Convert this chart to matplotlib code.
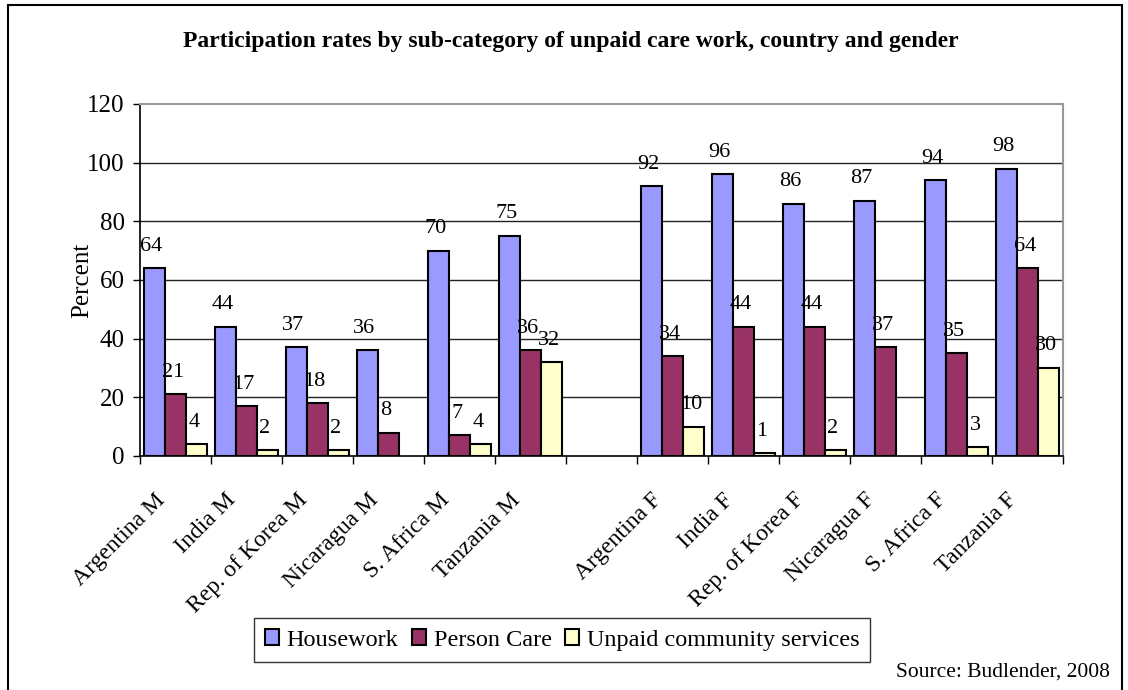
import numpy as np
import matplotlib.pyplot as plt
import matplotlib.transforms as mtransforms
from matplotlib.patches import Rectangle

plt.rcParams['font.family'] = ['Liberation Serif', 'DejaVu Serif']

categories = ["Argentina M", "India M", "Rep. of Korea M", "Nicaragua M", "S. Africa M", "Tanzania M", "",
              "Argentina F", "India F", "Rep. of Korea F", "Nicaragua F", "S. Africa F", "Tanzania F"]
housework = [64, 44, 37, 36, 70, 75, np.nan, 92, 96, 86, 87, 94, 98]
person_care = [21, 17, 18, 8, 7, 36, np.nan, 34, 44, 44, 37, 35, 64]
community = [4, 2, 2, np.nan, 4, 32, np.nan, 10, 1, 2, np.nan, 3, 30]

series = [
    ("Housework", housework, "#9999FF"),
    ("Person Care", person_care, "#993366"),
    ("Unpaid community services", community, "#FFFFCC"),
]

fig = plt.figure(figsize=(11.28, 6.9), dpi=100)
ax = fig.add_axes([140 / 1128, 1 - 456 / 690, (1063 - 140) / 1128, (456 - 104) / 690])

x = np.arange(len(categories))
w = 0.3
for k, (name, vals, col) in enumerate(series):
    vals = np.array(vals, dtype=float)
    pos = x + (k - 1) * w
    ax.bar(pos, vals, width=w, color=col, edgecolor="black", linewidth=1.5, label=name, zorder=3)
    for xi, v in zip(pos, vals):
        if np.isnan(v):
            continue
        ax.annotate(f"{v:.0f}", (xi, v), xytext=(-2, 9), textcoords="offset points",
                    ha="center", va="bottom", fontsize=16, zorder=4)

ax.set_xlim(-0.5, len(categories) - 0.5)
ax.set_ylim(0, 120)
ax.set_yticks(np.arange(0, 121, 20))
ax.tick_params(axis="y", labelsize=18, direction="out", length=5, width=1, pad=6)
for yv in range(20, 120, 20):
    ax.axhline(yv, color="#222222", linewidth=1, zorder=1)

ax.set_xticks(x)
ax.set_xticklabels(categories, rotation=45, ha="right", rotation_mode="anchor", fontsize=17)
ax.tick_params(axis="x", length=0, pad=24)
# labels end a little left of the category centre
shift = mtransforms.ScaledTranslation(-21 / 100, 0, fig.dpi_scale_trans)
for lab in ax.get_xticklabels():
    lab.set_transform(lab.get_transform() + shift)
ax.set_xticks(np.arange(-0.5, len(categories), 1), minor=True)
ax.tick_params(axis="x", which="minor", direction="out", length=6, width=1)

ax.spines["left"].set_linewidth(1.2)
ax.spines["bottom"].set_linewidth(1.2)
ax.spines["top"].set_color("#999999")
ax.spines["right"].set_color("#999999")
ax.spines["top"].set_linewidth(1.5)
ax.spines["right"].set_linewidth(1.5)

ax.set_ylabel("Percent", fontsize=18, labelpad=-4)

fig.text(0.506, 1 - 42 / 690, "Participation rates by sub-category of unpaid care work, country and gender",
         ha="center", va="center", fontsize=17, fontweight="bold")

leg = fig.legend(loc="center", bbox_to_anchor=(562 / 1128, 1 - 640 / 690), ncol=3, fontsize=17.5,
                 frameon=True, fancybox=False, edgecolor="black", handlelength=0.6, handleheight=0.6,
                 handletextpad=0.3, columnspacing=0.55, borderpad=0.45)
leg.get_frame().set_linewidth(1)

fig.text(1110 / 1128, 1 - 672 / 690, "Source: Budlender, 2008", ha="right", va="center", fontsize=15.5)

fig.add_artist(Rectangle((8 / 1128, -0.05), (1122 - 8) / 1128, 1.05 - 5 / 690, transform=fig.transFigure,
                         fill=False, edgecolor="black", linewidth=1.5))

fig.savefig("out.png", dpi=100)
